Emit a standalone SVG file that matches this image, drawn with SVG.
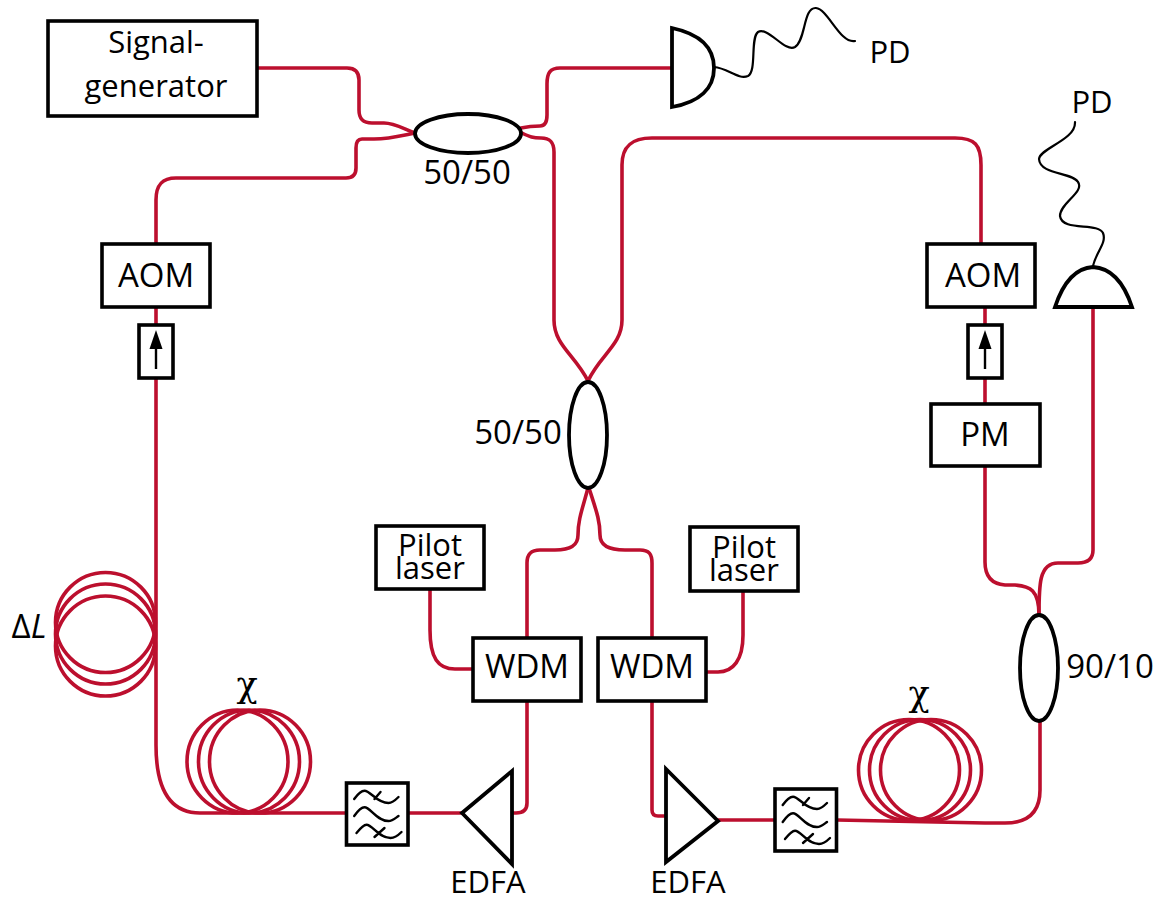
<svg xmlns="http://www.w3.org/2000/svg" width="1160" height="901" viewBox="0 0 1160 901">
<style>
.w{fill:none;stroke:#bc0f2e;stroke-width:3.6;stroke-linecap:round;stroke-linejoin:round}
.b{fill:#fff;stroke:#000;stroke-width:3.6}
.e{fill:#fff;stroke:#000;stroke-width:3.8}
.s{fill:none;stroke:#000;stroke-width:2.2;stroke-linecap:round}
.f{fill:none;stroke:#000;stroke-width:2.4;stroke-linecap:round}
text{font-family:"Open Sans","Noto Sans","Liberation Sans",sans-serif;font-size:31px;fill:#000;text-anchor:middle}
.m{font-size:33px}
.c{font-family:"DejaVu Serif",serif;font-size:35px}
</style>
<defs>
<g id="filt">
<rect class="b" width="61.500" height="62"/>
<path class="f" d="M7.700 16C12 10 15 7.700 18 7.700C24 7.700 30 20 42 20C46 20 49 17 52 14M28 16L34 9"/>
<path class="f" d="M7.700 33C12 27 15 24.300 18 24.300C24 24.300 30 38 42 38C46 38 49 35 52 33"/>
<path class="f" d="M10 50C14 45 17 41.700 20 41.700C26 41.700 32 55 44 55C48 55 52 52 55 49M28 54L38 45"/>
</g>
<g id="iso">
<rect class="b" x="-17" y="0" width="34" height="53"/>
<path d="M0 44V22" fill="none" stroke="#000" stroke-width="2.400"/>
<path d="M0 5L6.500 24H-6.500Z" fill="#000"/>
</g>
</defs>
<g id="connectors">
<path class="w" d="M257 68H347C355 68 359 72 359 80V110C359 119 363 123 372 123H384C394 123 402 128 415 133"/>
<path class="w" d="M415 133C400 136 390 139 374 139H362C357 139 356 143 356 148V168C356 175 352 178 346 178H176C162 178 156 185 156 200V244"/>
<path class="w" d="M521 128C530 126 534 126 540 126C545 126 547 122 547 115V84C547 73 550 68 560 68H672"/>
<path class="w" d="M522 133C530 137 533 138 541 138C550 138 554 142 554 152V320C554 345 575 355 588 381"/>
<path class="w" d="M588 381C600 355 622 345 622 320V165C622 146 632 138 652 138H955C975 138 981 145 981 165V244"/>
<path class="w" d="M156 307V324M156 378V745C156 790 170 813 200 813H346M408 813H461"/>
<path class="w" d="M588 488C582 510 578 520 578 535C578 546 570 550 555 550H540C531 550 527 554 527 563V638"/>
<path class="w" d="M589 488C596 510 600 520 600 535C600 546 610 550 625 550H640C649 550 652 554 652 563V638"/>
<path class="w" d="M430 589V630C430 658 438 669 455 669H473"/>
<path class="w" d="M743 591V635C743 660 733 672 718 672H706"/>
<path class="w" d="M527 701V803C527 810 523 813 516 813H512"/>
<path class="w" d="M652 701V810C652 814 654 816 658 816H666"/>
<path class="w" d="M718 820H774M837 820L985 823H1005C1028 823 1040 812 1040 790V722"/>
<path class="w" d="M985 307V324M985 378V404M985 466V562C985 577 992 584 1005 585H1015C1030 586 1039 590 1039 615"/>
<path class="w" d="M1039 615C1039 585 1039 563 1058 563H1078C1088 563 1093 559 1093 550V307"/>
<g id="coilL"><ellipse class="w" cx="105.500" cy="622.500" rx="50" ry="50"/><ellipse class="w" cx="105.500" cy="634" rx="50" ry="50"/><ellipse class="w" cx="105.500" cy="646" rx="50" ry="50"/></g>
<g id="coilC"><ellipse class="w" cx="237.500" cy="761.500" rx="50.500" ry="51.500"/><ellipse class="w" cx="249" cy="761.500" rx="50.500" ry="51.500"/><ellipse class="w" cx="260" cy="761.500" rx="50.500" ry="51.500"/></g>
<g id="coilR"><ellipse class="w" cx="909" cy="770" rx="50.500" ry="50.500"/><ellipse class="w" cx="920" cy="770" rx="50.500" ry="50.500"/><ellipse class="w" cx="931" cy="770" rx="50.500" ry="50.500"/></g>
<path class="s" d="M714 67C728 68 738 80 748 76C757 71 750 38 758 32C768 26 785 53 795 47C806 40 803 7 816 8C828 9 840 44 855 41"/>
<path class="s" d="M1093 266C1096 252 1107 243 1103 233C1098 222 1062 232 1060 216C1060 203 1085 192 1078 182C1072 172 1040 175 1039 159C1040 148 1076 140 1075 122"/>
</g>
<g id="signal-generator"><rect class="b" x="48" y="21" width="209" height="95"/><text x="156" y="53">Signal-</text><text x="156" y="97">generator</text></g>
<g id="pd-top"><path class="e" d="M672 28C700 34 714 48 714 68C714 88 700 102 672 107Z"/><text x="890" y="63">PD</text></g>
<g id="coupler-top"><ellipse class="e" cx="468" cy="133.500" rx="53" ry="19.500"/><text class="m" x="467" y="184">50/50</text></g>
<g id="aom-left"><rect class="b" x="102" y="244" width="108" height="63"/><text class="m" x="156" y="287">AOM</text></g>
<use id="iso-left" href="#iso" x="156" y="325"/>
<g id="aom-right"><rect class="b" x="927" y="244" width="108" height="63"/><text class="m" x="983" y="287">AOM</text></g>
<use id="iso-right" href="#iso" x="985" y="325"/>
<g id="pm"><rect class="b" x="931" y="404" width="109" height="62"/><text class="m" x="985" y="446">PM</text></g>
<g id="pd-right"><path class="e" d="M1055 307C1063 283 1075 268 1093 267C1112 268 1124 283 1132 307Z"/><text x="1092" y="113">PD</text></g>
<g id="coupler-center"><ellipse class="e" cx="588" cy="435" rx="19" ry="53"/><text class="m" x="518" y="444">50/50</text></g>
<g id="pilot-left"><rect class="b" x="376" y="526" width="108" height="63"/><text x="430" y="556">Pilot</text><text x="430" y="579">laser</text></g>
<g id="pilot-right"><rect class="b" x="690" y="527" width="108" height="64"/><text x="744" y="558">Pilot</text><text x="744" y="581">laser</text></g>
<g id="wdm-left"><rect class="b" x="473" y="638" width="108" height="63"/><text class="m" x="527" y="678">WDM</text></g>
<g id="wdm-right"><rect class="b" x="598" y="638" width="108" height="63"/><text class="m" x="652" y="678">WDM</text></g>
<g id="coupler-right"><ellipse class="e" cx="1039" cy="668" rx="19" ry="53"/><text class="m" x="1110" y="678">90/10</text></g>
<use id="filter-left" href="#filt" x="346.500" y="783"/>
<use id="filter-right" href="#filt" x="775" y="789"/>
<g id="edfa-left"><path class="e" d="M462 813L512 771V864Z"/><text x="488" y="893">EDFA</text></g>
<g id="edfa-right"><path class="e" d="M666 769V862L718 821Z"/><text x="688" y="893">EDFA</text></g>
<g id="labels">
<text class="m" x="29" y="638"><tspan>Δ</tspan><tspan font-style="italic">L</tspan></text>
<text class="c" x="247" y="697">χ</text>
<text class="c" x="919" y="706">χ</text>
</g>
</svg>
